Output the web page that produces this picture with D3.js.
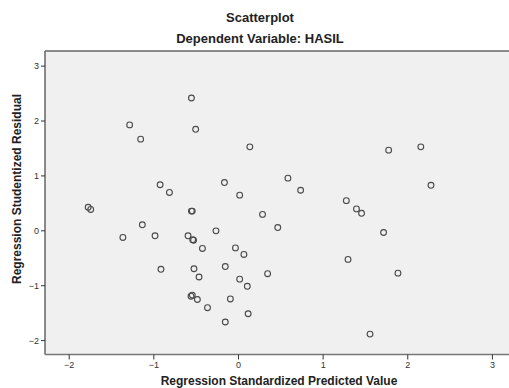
<!DOCTYPE html>
<html>
<head>
<meta charset="utf-8">
<script src="https://cdn.jsdelivr.net/npm/d3@7"></script>
<style>
  html, body { margin: 0; padding: 0; background: #ffffff; }
  svg { display: block; }
  text { font-family: "Liberation Sans", Arial, sans-serif; }
</style>
</head>
<body>
<svg id="chart" width="509" height="388"></svg>
<script>
const title = "Scatterplot";
const subtitle = "Dependent Variable: HASIL";
const xAxisTitle = "Regression Standardized Predicted Value";
const yAxisTitle = "Regression Studentized Residual";
const xTicks = [-2, -1, 0, 1, 2, 3];
const yTicks = [-2, -1, 0, 1, 2, 3];

const predicted = [
  -0.55, -1.28, -0.50, -1.15, 0.14, -0.92, -0.81, -0.16, 0.02,
  -1.77, -1.74, -0.55, -0.54, 0.29, 0.47, -1.13, -1.36, -0.98,
  -0.59, -0.535, -0.525, -0.26, -0.42, -0.03, 0.07, -0.91, -0.52,
  -0.15, -0.46, 0.02, 0.11, 0.35, -0.555, -0.54, -0.48, -0.09,
  -0.36, 0.12, -0.15, 0.59, 0.74, 1.78, 2.16, 2.28, 1.28,
  1.40, 1.46, 1.72, 1.30, 1.89, 1.56
];
const residual = [
  2.41, 1.92, 1.84, 1.66, 1.52, 0.83, 0.69, 0.87, 0.64,
  0.42, 0.38, 0.35, 0.35, 0.29, 0.05, 0.10, -0.13, -0.10,
  -0.10, -0.17, -0.18, -0.01, -0.33, -0.32, -0.44, -0.71, -0.70,
  -0.66, -0.85, -0.89, -1.02, -0.79, -1.20, -1.18, -1.26, -1.25,
  -1.41, -1.52, -1.67, 0.95, 0.73, 1.46, 1.52, 0.82, 0.54,
  0.39, 0.31, -0.04, -0.53, -0.78, -1.89
];

const svg = d3.select("#chart");
const pLeft = 45, pTop = 51, pRight = 508, pBottom = 354.5;

const x = d3.scaleLinear().domain([-2.28, 3.19]).range([pLeft, pRight]);
const y = d3.scaleLinear().domain([-2.262, 3.266]).range([pBottom, pTop]);

// plot background
svg.append("rect")
  .attr("x", pLeft).attr("y", pTop)
  .attr("width", pRight - pLeft + 10).attr("height", pBottom - pTop)
  .attr("fill", "#f0f0f0");

// frame lines
svg.append("line").attr("x1", pLeft).attr("x2", 509).attr("y1", pTop).attr("y2", pTop)
  .attr("stroke", "#666").attr("stroke-width", 1.5);
svg.append("line").attr("x1", pLeft).attr("x2", pLeft).attr("y1", pTop).attr("y2", pBottom)
  .attr("stroke", "#666").attr("stroke-width", 1.5);
svg.append("line").attr("x1", pLeft).attr("x2", 509).attr("y1", pBottom).attr("y2", pBottom)
  .attr("stroke", "#777").attr("stroke-width", 1.5);

// axes
const xAxis = d3.axisBottom(x).tickValues(xTicks).tickSize(5).tickPadding(2).tickFormat(d3.format("d"));
const gx = svg.append("g").attr("transform", `translate(0,${pBottom})`).call(xAxis);
gx.select(".domain").remove();
gx.selectAll(".tick line").attr("stroke", "#333");
gx.selectAll(".tick text").attr("font-size", 9).attr("fill", "#333")
  .attr("font-family", "'Liberation Sans', Arial, sans-serif");

const yAxis = d3.axisLeft(y).tickValues(yTicks).tickSize(4).tickPadding(2).tickFormat(d3.format("d"));
const gy = svg.append("g").attr("transform", `translate(${pLeft},0)`).call(yAxis);
gy.select(".domain").remove();
gy.selectAll(".tick line").attr("stroke", "#333");
gy.selectAll(".tick text").attr("font-size", 9).attr("fill", "#333")
  .attr("font-family", "'Liberation Sans', Arial, sans-serif");

// points
svg.append("g").selectAll("circle")
  .data(predicted.map((p, i) => [p, residual[i]]))
  .join("circle")
  .attr("cx", d => x(d[0]))
  .attr("cy", d => y(d[1]))
  .attr("r", 2.9)
  .attr("fill", "none")
  .attr("stroke", "#4a4a4a")
  .attr("stroke-width", 1.1);

// titles
svg.append("text").attr("x", 260).attr("y", 22).attr("text-anchor", "middle")
  .attr("font-size", 13).attr("font-weight", "bold").attr("fill", "#222").text(title);
svg.append("text").attr("x", 260).attr("y", 43).attr("text-anchor", "middle")
  .attr("font-size", 13).attr("font-weight", "bold").attr("fill", "#222").text(subtitle);
svg.append("text").attr("x", 279).attr("y", 385).attr("text-anchor", "middle")
  .attr("font-size", 12).attr("font-weight", "bold").attr("fill", "#222").text(xAxisTitle);
svg.append("text").attr("transform", "translate(21,189) rotate(-90)").attr("text-anchor", "middle")
  .attr("font-size", 12).attr("font-weight", "bold").attr("fill", "#222").text(yAxisTitle);
</script>
</body>
</html>
